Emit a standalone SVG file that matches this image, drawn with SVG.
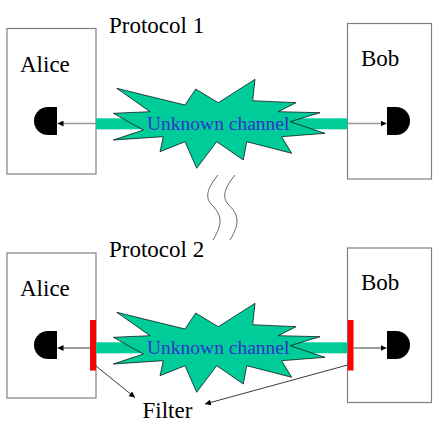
<svg xmlns="http://www.w3.org/2000/svg" width="436" height="432" viewBox="0 0 436 432">
<style>
.box{fill:#fff;stroke:#808080;stroke-width:1.2}
.lbl{font-size:23px;fill:#000}
.ch{font-size:19.5px;fill:#3333cc}
.tube{fill:#00cc99}
.star{fill:#00cc99;stroke:#000;stroke-width:0.7;stroke-linejoin:miter}
.det{fill:#000}
.flt{fill:#ff0000}
.ga{stroke:#999;stroke-width:1.3;fill:none}
.ba{stroke:#222;stroke-width:0.9;fill:none}
.sq{stroke:#666;stroke-width:1;fill:none}
</style>
<defs>
<marker id="ah" viewBox="0 0 10 10" refX="10" refY="5" markerWidth="6" markerHeight="6" markerUnits="userSpaceOnUse" orient="auto">
<path d="M0,0 L10,5 L0,10 Z" fill="#000"/>
</marker>
<polygon id="starShape" class="star" points="116.7,88.3 185,105 195.7,89 218.3,102.7 255,79.3 252.7,100.7 296,102.7 278.3,111.7 320,112.7 290,121.7 325,133.3 281.7,136.7 291.7,153.3 246.7,141.7 243.3,160 216.7,141.7 196.7,168.3 185,141.7 160,151.7 163.3,136.7 113.3,140 143.3,130 113.3,113.3 150,111.7"/>
</defs>
<rect width="436" height="432" fill="#fff"/>
<g font-family="Liberation Serif, Tinos, Times New Roman, Times, DejaVu Serif, serif">
<text class="lbl" x="109" y="33">Protocol 1</text>
<text class="lbl" x="109" y="257">Protocol 2</text>

<g id="alice1">
<rect class="box" x="7" y="28.5" width="89" height="145.5"/>
<text class="lbl" x="20" y="72">Alice</text>
<path class="det" d="M57,107 L48,107 A14,14 0 0 0 48,135 L57,135 Z"/>
</g>
<g id="bob1">
<rect class="box" x="347.5" y="23.5" width="84" height="155.5"/>
<text class="lbl" x="361" y="66">Bob</text>
<path class="det" d="M387,107 L396,107 A14,14 0 0 1 396,135 L387,135 Z"/>
</g>
<g id="channel1">
<rect class="tube" x="96" y="118.3" width="251.5" height="11"/>
<use href="#starShape"/>
<text class="ch" x="147" y="129.5">Unknown channel</text>
</g>

<g id="alice2">
<rect class="box" x="7" y="253" width="89" height="145"/>
<text class="lbl" x="20" y="296">Alice</text>
<path class="det" d="M57,331 L48,331 A14,14 0 0 0 48,359 L57,359 Z"/>
</g>
<g id="bob2">
<rect class="box" x="347.5" y="248" width="84" height="154.5"/>
<text class="lbl" x="361" y="290">Bob</text>
<path class="det" d="M387,331 L396,331 A14,14 0 0 1 396,359 L387,359 Z"/>
</g>
<g id="channel2">
<rect class="tube" x="96" y="342.3" width="251.5" height="11"/>
<use href="#starShape" transform="translate(0,224)"/>
<text class="ch" x="147" y="353.5">Unknown channel</text>
</g>
<g id="filters">
<rect class="flt" x="90" y="320" width="6" height="50.5"/>
<rect class="flt" x="347.7" y="320" width="5.8" height="50.5"/>
<text class="lbl" x="142.5" y="418">Filter</text>
</g>
</g>
<g id="squiggles">
<path class="sq" d="M218,175 C209,186 204,196 211,204 C221,214 224,222 213,240"/>
<path class="sq" d="M235,175 C226,186 221,196 228,204 C238,214 241,222 230,240"/>
</g>

<g id="connectors">
<line class="ga" x1="96" y1="123.5" x2="57.5" y2="123.5" marker-end="url(#ah)"/>
<line class="ga" x1="347.5" y1="123.5" x2="386.5" y2="123.5" marker-end="url(#ah)"/>
<line class="ba" x1="90" y1="348" x2="57.5" y2="348" marker-end="url(#ah)"/>
<line class="ba" x1="353.5" y1="348" x2="386.5" y2="348" marker-end="url(#ah)"/>
<line class="ba" x1="96" y1="366" x2="135" y2="397.5" marker-end="url(#ah)"/>
<line class="ba" x1="347.5" y1="365" x2="205" y2="404" marker-end="url(#ah)"/>
</g>
</svg>
